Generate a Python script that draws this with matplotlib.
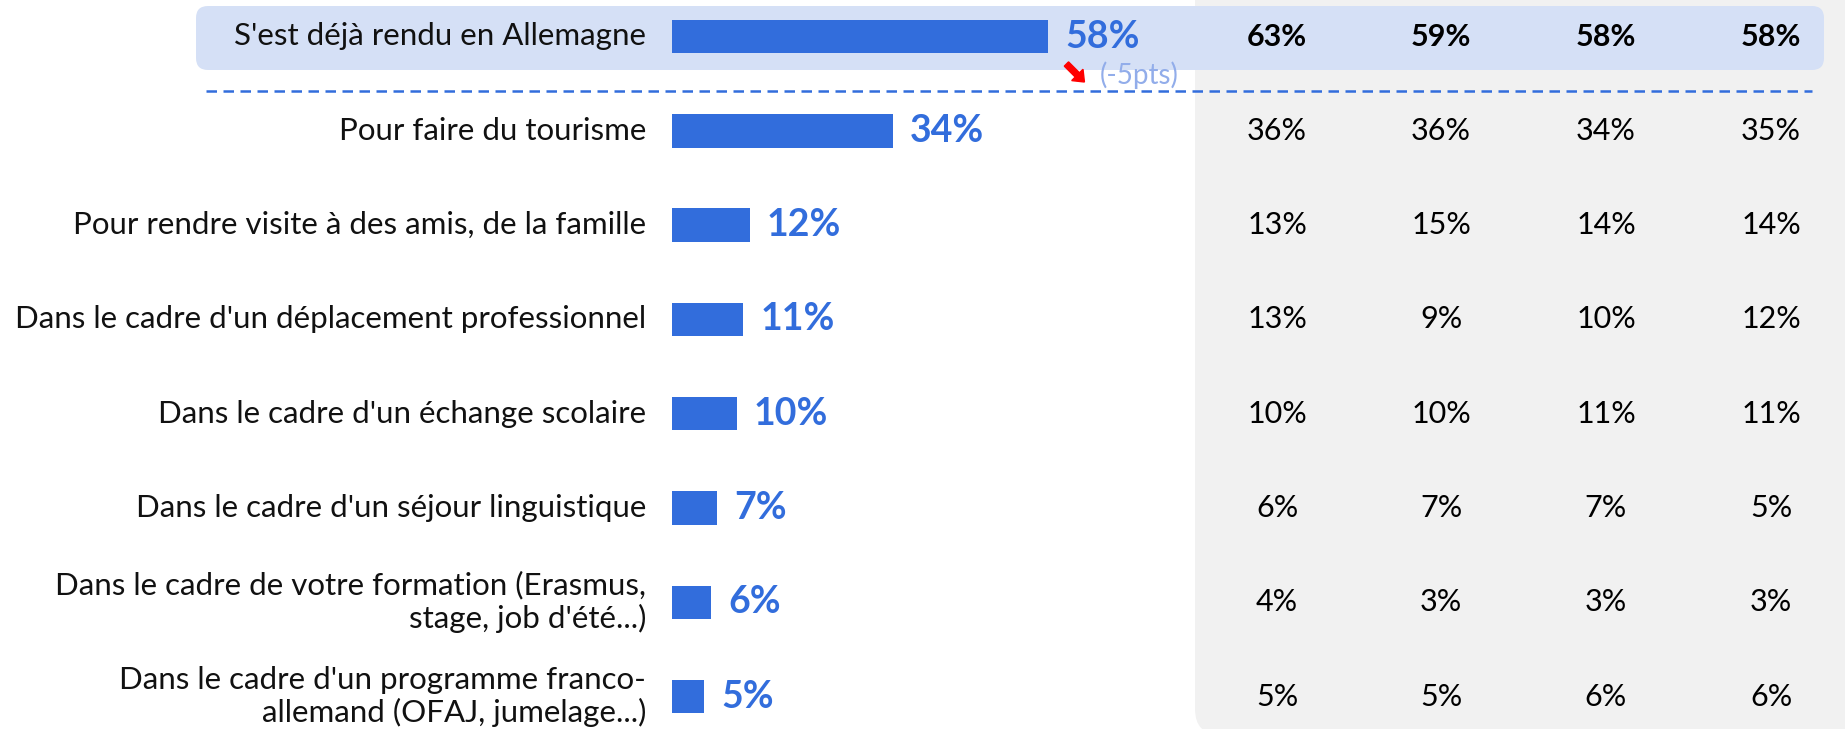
import matplotlib
matplotlib.use("Agg")
import matplotlib.pyplot as plt
from matplotlib.patches import FancyBboxPatch, FancyArrow
from matplotlib.lines import Line2D
from matplotlib.transforms import blended_transform_factory

# ---------------- data ----------------
categories = [
    "S'est déjà rendu en Allemagne",
    "Pour faire du tourisme",
    "Pour rendre visite à des amis, de la famille",
    "Dans le cadre d'un déplacement professionnel",
    "Dans le cadre d'un échange scolaire",
    "Dans le cadre d'un séjour linguistique",
    "Dans le cadre de votre formation (Erasmus,\nstage, job d'été...)",
    "Dans le cadre d'un programme franco-\nallemand (OFAJ, jumelage...)",
]
values = [58, 34, 12, 11, 10, 7, 6, 5]
col1 = [63, 36, 13, 13, 10, 6, 4, 5]
col2 = [59, 36, 15, 9, 10, 7, 3, 5]
col3 = [58, 34, 14, 10, 11, 7, 3, 6]
col4 = [58, 35, 14, 12, 11, 5, 3, 6]
delta_text = "(-5pts)"

# ---------------- style ----------------
W, H, DPI = 1845, 729, 100
FONT = "Lato"
BLUE = "#326ddc"
LIGHTBLUE = "#92adea"
BOX = "#d5e0f6"
GRAY = "#f1f1f1"

fig = plt.figure(figsize=(W / DPI, H / DPI), dpi=DPI)
fig.patch.set_facecolor("white")

def px(x, y):
    """pixel (from top-left) -> inches for dpi_scale_trans"""
    return x / DPI, (H - y) / DPI

# gray panel on the right
gx, gy = px(1195, 735)
fig.patches.append(FancyBboxPatch(
    (gx, gy), (W + 60 - 1195) / DPI, (735 + 60) / DPI,
    boxstyle="round,pad=0,rounding_size=0.26",
    transform=fig.dpi_scale_trans, facecolor=GRAY, edgecolor="none", zorder=0))

# highlight box for first row
bx, by = px(196, 70)
fig.patches.append(FancyBboxPatch(
    (bx, by), (1824 - 196) / DPI, (70 - 6) / DPI,
    boxstyle="round,pad=0,rounding_size=0.12",
    transform=fig.dpi_scale_trans, facecolor=BOX, edgecolor="none", zorder=1))

# dashed separator
x0, y0 = px(206, 91)
x1, _ = px(1812, 91)
fig.lines.append(Line2D([x0, x1], [y0, y0], transform=fig.dpi_scale_trans,
                        color=BLUE, lw=1.8, dashes=(4.2, 2.6), zorder=2))

# ---------------- bars ----------------
PX_PER_UNIT = 6.49
bar_left = 672
ax = fig.add_axes([bar_left / W, 0, (W - bar_left) / W, 1])
ax.set_facecolor("none")
ax.set_xlim(0, (W - bar_left) / PX_PER_UNIT)
row0, step = 36.5, 94.3
ax.set_ylim((H - row0) / step, -row0 / step)
ax.axis("off")
ax.set_zorder(3)

ypos = list(range(len(categories)))
ax.barh(ypos, values, height=0.355, color=BLUE, zorder=3)

for i, (cat, v) in enumerate(zip(categories, values)):
    ax.annotate(cat, xy=(0, i), xytext=(-26 * 0.72, 0), textcoords="offset points",
                ha="right", va="center", fontsize=22.5, family=FONT, weight="normal",
                color="#111111", linespacing=1.19)
    ax.annotate(f"{v}%", xy=(v, i), xytext=(17 * 0.72, 0), textcoords="offset points",
                ha="left", va="center", fontsize=27, family=FONT, weight="bold",
                color=BLUE, zorder=6)

# delta annotation on the first row (red arrow + text)
end_px = bar_left + values[0] * PX_PER_UNIT
ax0, ay0 = px(end_px + 18, 64)
ax1, ay1 = px(end_px + 36, 82)
arrow = FancyArrow(ax0, ay0, ax1 - ax0, ay1 - ay0, width=0.06, head_width=0.16,
                   head_length=0.1, length_includes_head=True,
                   transform=fig.dpi_scale_trans, color="#ff0000", zorder=5)
fig.patches.append(arrow)
ax.annotate(delta_text, xy=(values[0], 0), xytext=(51 * 0.72, -39 * 0.72),
            textcoords="offset points", ha="left", va="center", fontsize=20,
            family=FONT, weight="normal", color=LIGHTBLUE)

# ---------------- columns ----------------
col_x = [1277, 1441, 1606, 1771]
trans = blended_transform_factory(fig.transFigure, ax.transData)
for cx, col in zip(col_x, [col1, col2, col3, col4]):
    for i, v in enumerate(col):
        ax.text(cx / W, i, f"{v}%", transform=trans, ha="center", va="center",
                fontsize=22 if i == 0 else 22, family=FONT,
                weight="bold" if i == 0 else "normal", color="black")

fig.savefig("out.png", dpi=DPI, facecolor=fig.get_facecolor())
